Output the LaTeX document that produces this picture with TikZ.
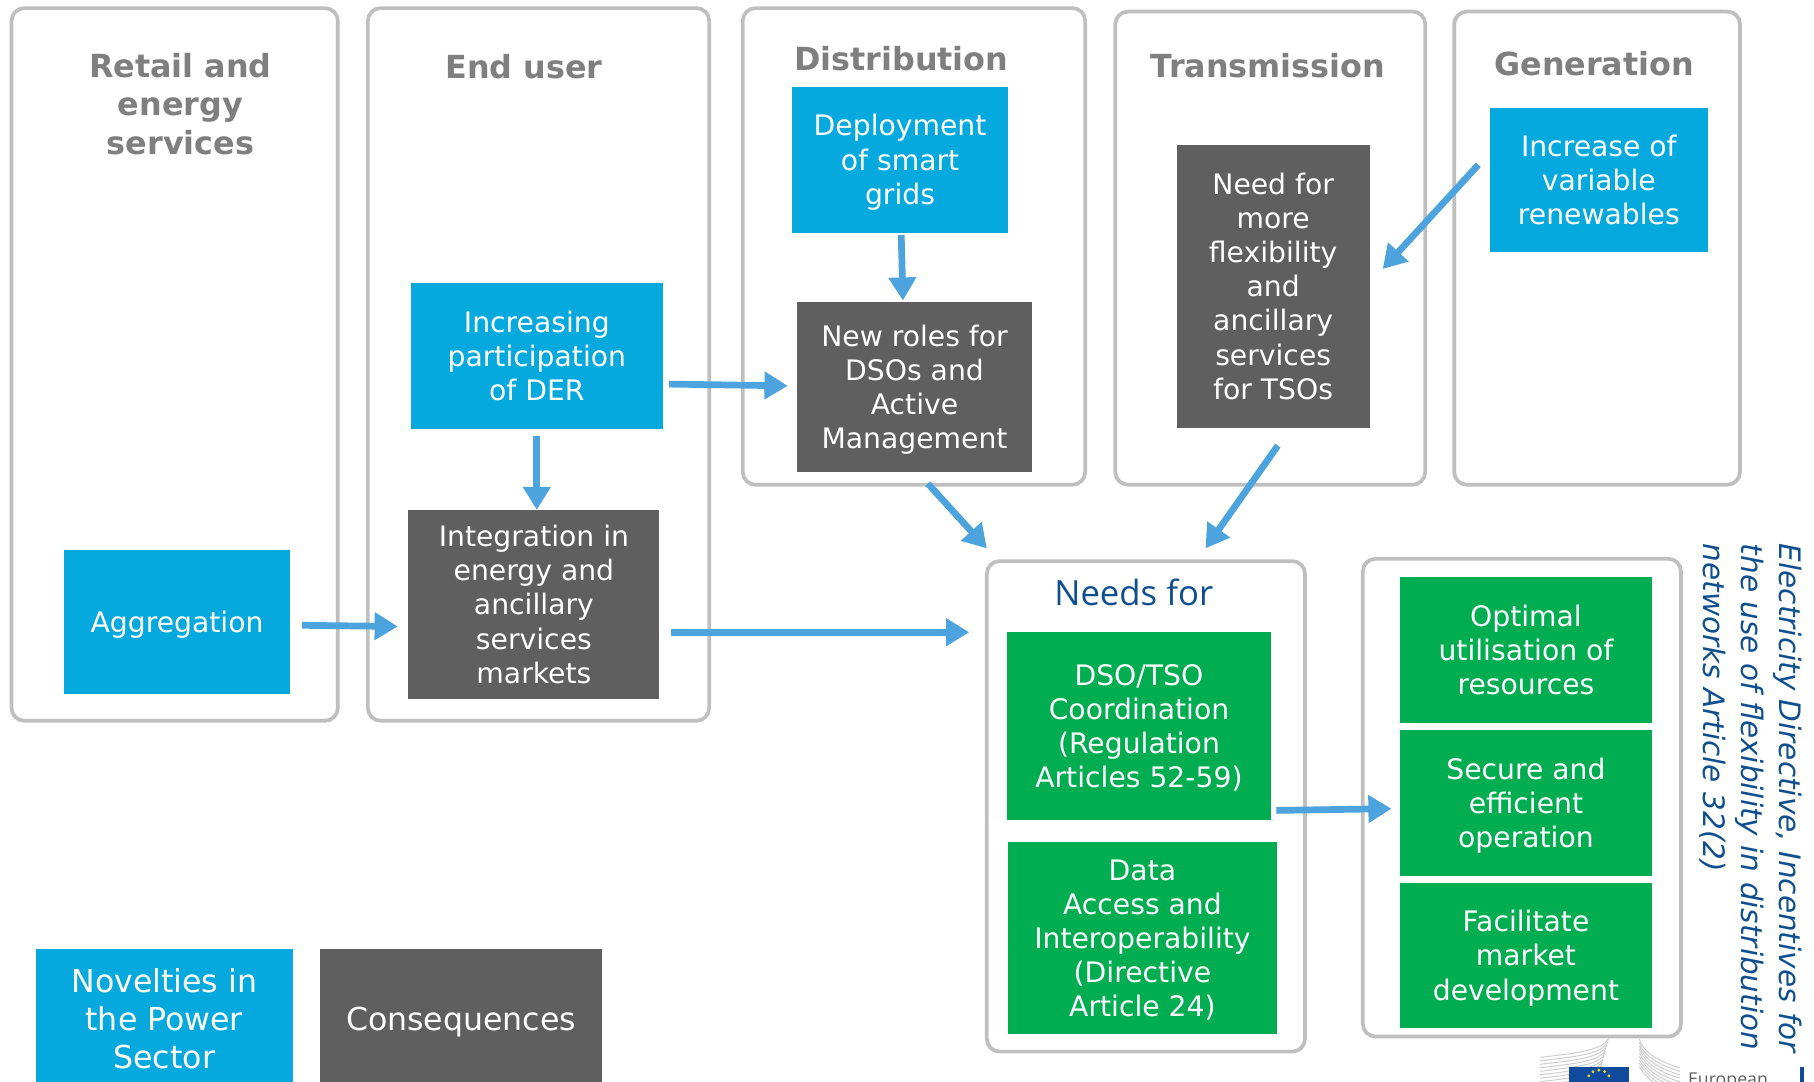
\documentclass[tikz,border=0pt]{standalone}
\usepackage{fontspec}
\setmainfont{DejaVu Sans}
\newfontfamily\notefont{Open Sans}
\usetikzlibrary{arrows.meta,calc}
\definecolor{pgray}{HTML}{BFBFBF}
\definecolor{hgray}{HTML}{7F7F7F}
\definecolor{nblue}{HTML}{05A9DE}
\definecolor{ndark}{HTML}{5F5F5F}
\definecolor{ngreen}{HTML}{00AD50}
\definecolor{arblue}{HTML}{4CA3DD}
\definecolor{tblue}{HTML}{0F4F8F}
\definecolor{flagblue}{HTML}{0F4A9C}
\definecolor{star}{HTML}{E6D82A}
\definecolor{logogray}{HTML}{CFCFCF}
\newcommand{\ts}{\vrule height 23pt depth 0pt width 0pt\relax}
\newcommand{\tb}{\vrule height 26pt depth 0pt width 0pt\relax}
\tikzset{
  panel/.style={draw=pgray,line width=3.2pt,rounded corners=11pt,fill=white},
  hdr/.style={font=\fontsize{27.5}{33}\selectfont\bfseries,text=hgray,align=center,inner sep=0},
  boxbase/.style={inner sep=0,text=white,align=center,font=\fontsize{24.4}{29.5}\selectfont,
    execute at end node={\vrule height 0pt depth 5pt width 0pt\relax}},
  big/.style={font=\fontsize{27.3}{33}\selectfont,
    execute at end node={\vrule height 0pt depth 6pt width 0pt\relax}},
  arr/.style={draw=arblue,line width=5.8pt,-{Triangle[length=20pt,width=23pt]}},
  logoline/.style={draw=logogray,line width=0.9pt},
}
\begin{document}
\begin{tikzpicture}[x=1pt,y=-1pt]
\useasboundingbox (0,0) rectangle (1568,935);
\clip (0,0) rectangle (1568,935);
% logo
\foreach \d in {0,3,...,24}{
  \draw[logoline] (1331,{914+\d}) .. controls (1365,{910+\d}) and (1385,{908+\d}) .. ({1391-\d*0.3},{897+\d});
  \draw[logoline] (1417,{898+\d}) .. controls ({1420+\d*0.2},{910+\d}) and (1435,{918+\d}) .. (1452,{923+\d});
}
\fill[flagblue] (1356,922) rectangle (1408,935);
\foreach \a in {-60,-30,0,30,60}{\fill[star] ({1382+10*sin(\a)},{935-10*cos(\a)}) circle (1.4pt);}
\node[anchor=base west,inner sep=0,text=ndark,font=\notefont\fontsize{15.3}{16}\selectfont] (eu) at (1459,938) {European};
\fill[flagblue] (1555.5,922) rectangle (1559,935);
% panels
\draw[panel] (10,7) rectangle (292,623);
\draw[panel] (318,7) rectangle (613,623);
\draw[panel] (642,7) rectangle (938,419);
\draw[panel] (964,10) rectangle (1232,419);
\draw[panel] (1257,10) rectangle (1504,419);
\draw[panel] (853,485) rectangle (1128,909);
\draw[panel] (1178,483) rectangle (1453,896);
% headers
\node[hdr] (hr) at (156,90) {Retail and\\energy\\services};
\node[hdr] (he) at (453,58) {End user};
\node[hdr] (hd) at (779,51) {Distribution};
\node[hdr] (ht) at (1096,57) {Transmission};
\node[hdr] (hg) at (1378,55) {Generation};
\node[font=\notefont\fontsize{30}{33}\selectfont,text=tblue,inner sep=0] (needs) at (980,512) {Needs for};
% blue
\node[boxbase,fill=nblue,minimum width=186pt,minimum height=126pt] (dep) at (778,138) {\ts Deployment\\of smart\\grids};
\node[boxbase,fill=nblue,minimum width=188pt,minimum height=125pt] (inc) at (1382,155.5) {\ts Increase of\\variable\\renewables};
\node[boxbase,fill=nblue,minimum width=218pt,minimum height=126pt] (der) at (464,308) {\ts Increasing\\participation\\of DER};
\node[boxbase,fill=nblue,minimum width=196pt,minimum height=125pt] (agg) at (153,537.5) {\ts Aggregation};
% dark
\node[boxbase,fill=ndark,minimum width=203pt,minimum height=147pt] (roles) at (790.5,334.5) {\ts New roles for\\DSOs and\\Active\\Management};
\node[boxbase,fill=ndark,minimum width=167pt,minimum height=245pt] (need) at (1100.5,247.5) {\ts Need for\\more\\flexibility\\and\\ancillary\\services\\for TSOs};
\node[boxbase,fill=ndark,minimum width=217pt,minimum height=163pt] (integ) at (461.5,522.5) {\ts Integration in\\energy and\\ancillary\\services\\markets};
% green
\node[boxbase,fill=ngreen,minimum width=229pt,minimum height=163pt] (dso) at (984.5,627.5) {\ts DSO/TSO\\Coordination\\(Regulation\\Articles 52-59)};
\node[boxbase,fill=ngreen,minimum width=233pt,minimum height=166pt] (data) at (987.5,811) {\ts Data\\Access and\\Interoperability\\(Directive\\Article 24)};
\node[boxbase,fill=ngreen,minimum width=218pt,minimum height=126pt] (opt) at (1319,562) {\ts Optimal\\utilisation of\\resources};
\node[boxbase,fill=ngreen,minimum width=218pt,minimum height=126pt] (sec) at (1319,694) {\ts Secure and\\efficient\\operation};
\node[boxbase,fill=ngreen,minimum width=218pt,minimum height=126pt] (fac) at (1319,826) {\ts Facilitate\\market\\development};
% legend
\node[boxbase,big,fill=nblue,minimum width=222pt,minimum height=122pt] (nov) at (142,881) {\tb Novelties in\\the Power\\Sector};
\node[boxbase,big,fill=ndark,minimum width=243pt,minimum height=122pt] (con) at (398.5,881) {\tb Consequences};
% rotated text
\node[rotate=-90,anchor=north west,align=left,inner sep=0,text=tblue,font=\fontsize{25.5}{33}\selectfont\itshape] (note) at (1558,470) {Electricity Directive, Incentives for\\the use of flexibility in distribution\\networks Article 32(2)};
% free ends
\coordinate (nl) at (853,474);
\coordinate (nr) at (1042,474);
\coordinate (fromroles) at (802,418);
% arrows
\draw[arr] ([shift={(1,2)}]dep.south) -- ([shift={(-10,-1)}]roles.north);
\draw[arr] ([shift={(5,24)}]der.east) -- ([shift={(-8,-1)}]roles.west);
\draw[arr] ([shift={(0,6)}]der.south) -- (integ.north -| der.south);
\draw[arr] ([shift={(10,3)}]agg.east) -- ([shift={(-9,19)}]integ.west);
\draw[arr] ([shift={(10,24)}]integ.east) -- ([shift={(-32,-81)}]dso.west);
\draw[arr] (fromroles) -- (nl);
\draw[arr] ([shift={(4,15)}]need.south) -- (nr);
\draw[arr] ([shift={(-10,-13)}]inc.west) -- ([shift={(11,-15)}]need.east);
\draw[arr] ([shift={(4,73)}]dso.east) -- ([shift={(-7,5)}]sec.west);
\end{tikzpicture}
\end{document}
